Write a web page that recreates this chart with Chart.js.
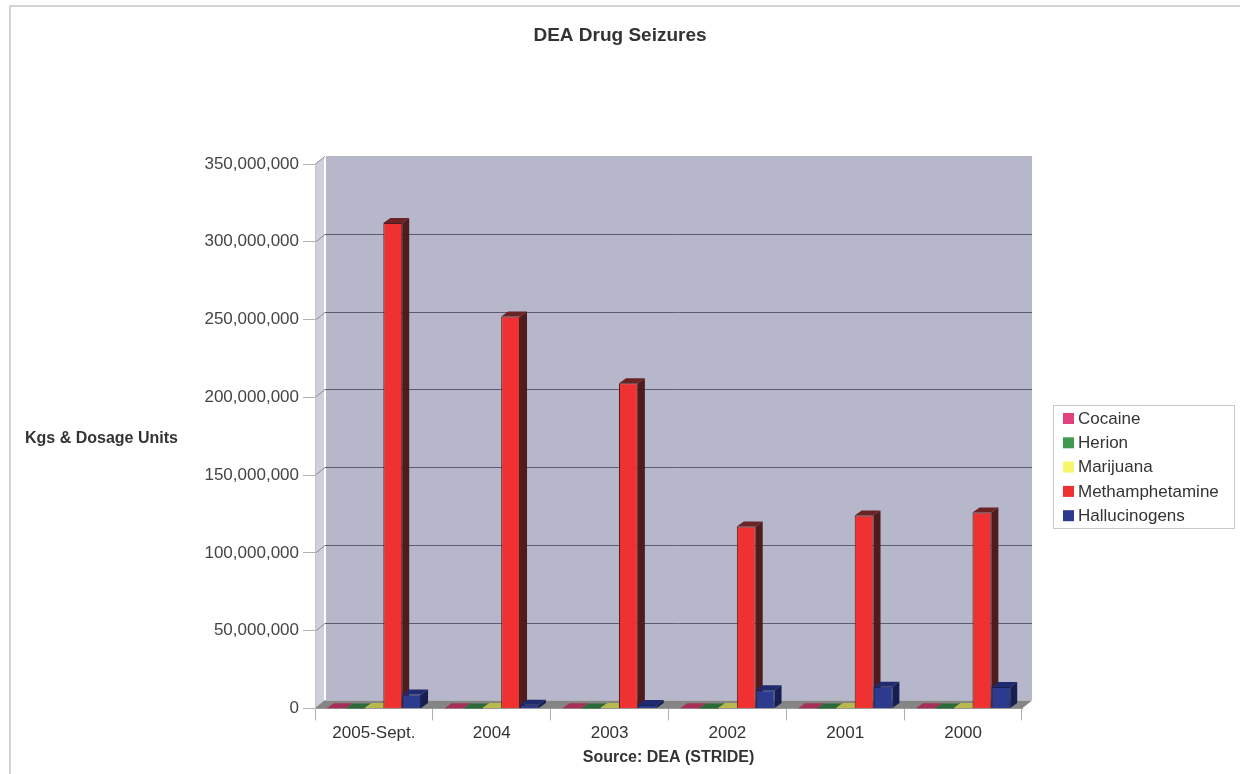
<!DOCTYPE html>
<html>
<head>
<meta charset="utf-8">
<title>DEA Drug Seizures</title>
<script src="https://cdn.jsdelivr.net/npm/chart.js@4.4.1/dist/chart.umd.min.js"></script>
<style>
  html, body { margin: 0; padding: 0; background: #fff; }
  #wrap { width: 1240px; height: 774px; }
</style>
</head>
<body>
<div id="wrap"><canvas id="seizureChart" width="1240" height="774"></canvas></div>
<script>
// ─ data
const categories = ['2005-Sept.', '2004', '2003', '2002', '2001', '2000'];
const cocaine = [118000, 117900, 73700, 61600, 59400, 58600];
const heroin = [640, 670, 800, 710, 750, 550];
const marijuana = [283000, 265800, 254200, 238400, 271800, 332000];
const methamphetamine = [312000000, 252000000, 209000000, 117000000, 124000000, 126000000];
const hallucinogens = [9000000, 2300000, 2200000, 11700000, 13900000, 13800000];
const seriesNames = ['Cocaine', 'Herion', 'Marijuana', 'Methamphetamine', 'Hallucinogens'];
const yMax = 350000000;
const yStep = 50000000;

const FONT = 'Arial, "Liberation Sans", sans-serif';
const frontColors = ['#e2427c', '#3f9a50', '#f6f56c', '#f03131', '#2d3b8f'];
const sideColors = ['#7c2242', '#1f4c2a', '#8a8a36', '#4e1c1c', '#161e52'];
const topColors = ['#a63058', '#2c6a3a', '#b8b84c', '#6a2424', '#202a6e'];

// depth of the fake 3d walls / bars
const WALL = { dx: 10, dy: 8 };
const BAR = { dx: 7, dy: 5 };

// ─ walls, floor, back gridlines
const wallsPlugin = {
    id: 'walls',
    beforeDraw(chart) {
        const { ctx, chartArea: a, scales } = chart;
        const y = scales.y;
        ctx.save();

        // light frame round the picture
        ctx.strokeStyle = '#d4d4d4';
        ctx.lineWidth = 2;
        ctx.beginPath();
        ctx.moveTo(10, 774);
        ctx.lineTo(10, 6);
        ctx.lineTo(1240, 6);
        ctx.stroke();

        // back wall
        ctx.fillStyle = '#b6b7ca';
        ctx.fillRect(a.left + WALL.dx, a.top - WALL.dy, a.width, a.height);

        // left wall
        ctx.fillStyle = '#cfd0dc';
        ctx.beginPath();
        ctx.moveTo(a.left, a.top);
        ctx.lineTo(a.left + WALL.dx, a.top - WALL.dy);
        ctx.lineTo(a.left + WALL.dx, a.bottom - WALL.dy);
        ctx.lineTo(a.left, a.bottom);
        ctx.closePath();
        ctx.fill();
        ctx.strokeStyle = '#ffffff';
        ctx.lineWidth = 2;
        ctx.beginPath();
        ctx.moveTo(a.left + WALL.dx, a.top - WALL.dy);
        ctx.lineTo(a.left + WALL.dx, a.bottom - WALL.dy);
        ctx.stroke();

        // back gridlines + slanted ticks on the left wall
        ctx.strokeStyle = '#5c5d72';
        ctx.lineWidth = 1;
        for (let v = yStep; v < yMax; v += yStep) {
            const py = Math.round(y.getPixelForValue(v)) + 0.5;
            ctx.beginPath();
            ctx.moveTo(a.left + WALL.dx, py - WALL.dy);
            ctx.lineTo(a.right + WALL.dx, py - WALL.dy);
            ctx.stroke();
        }
        ctx.strokeStyle = '#8a8a96';
        for (let v = 0; v <= yMax; v += yStep) {
            const py = Math.round(y.getPixelForValue(v)) + 0.5;
            ctx.beginPath();
            ctx.moveTo(a.left, py);
            ctx.lineTo(a.left + WALL.dx, py - WALL.dy);
            ctx.stroke();
        }

        // floor
        ctx.fillStyle = '#858585';
        ctx.beginPath();
        ctx.moveTo(a.left, a.bottom);
        ctx.lineTo(a.right, a.bottom);
        ctx.lineTo(a.right + WALL.dx, a.bottom - WALL.dy);
        ctx.lineTo(a.left + WALL.dx, a.bottom - WALL.dy);
        ctx.closePath();
        ctx.fill();
        ctx.restore();
    }
};

// ─ top and side faces of every bar
const barDepthPlugin = {
    id: 'barDepth',
    beforeDatasetsDraw(chart) {
        const ctx = chart.ctx;
        ctx.save();
        chart.getSortedVisibleDatasetMetas().forEach(meta => {
            const i = meta.index;
            meta.data.forEach(bar => {
                const { x, y, base, width } = bar.getProps(['x', 'y', 'base', 'width'], true);
                const x1 = x - width / 2, x2 = x + width / 2;
                // side
                ctx.fillStyle = sideColors[i];
                ctx.beginPath();
                ctx.moveTo(x2, y);
                ctx.lineTo(x2 + BAR.dx, y - BAR.dy);
                ctx.lineTo(x2 + BAR.dx, base - BAR.dy);
                ctx.lineTo(x2, base);
                ctx.closePath();
                ctx.fill();
                // top
                ctx.fillStyle = topColors[i];
                ctx.beginPath();
                ctx.moveTo(x1, y);
                ctx.lineTo(x2, y);
                ctx.lineTo(x2 + BAR.dx, y - BAR.dy);
                ctx.lineTo(x1 + BAR.dx, y - BAR.dy);
                ctx.closePath();
                ctx.fill();
            });
        });
        ctx.restore();
    }
};

// ─ title, horizontal y title and boxed legend
const labelsPlugin = {
    id: 'labels',
    afterDraw(chart) {
        const ctx = chart.ctx;
        ctx.save();
        ctx.fillStyle = '#333';
        ctx.textBaseline = 'middle';

        ctx.font = 'bold 19px ' + FONT;
        ctx.textAlign = 'center';
        ctx.fillText('DEA Drug Seizures', 620, 36);

        ctx.font = 'bold 16px ' + FONT;
        ctx.textAlign = 'left';
        ctx.fillText('Kgs & Dosage Units', 25, 439);

        // legend
        ctx.fillStyle = '#fff';
        ctx.fillRect(1053, 405, 181, 123);
        ctx.strokeStyle = '#c8c8c8';
        ctx.lineWidth = 1;
        ctx.strokeRect(1053.5, 405.5, 181, 123);
        ctx.font = '17px ' + FONT;
        chart.data.datasets.forEach((ds, i) => {
            const cy = 418 + i * 24.3;
            ctx.fillStyle = frontColors[i];
            ctx.fillRect(1063, cy - 5, 11, 11);
            ctx.fillStyle = '#333';
            ctx.fillText(ds.label, 1078, cy + 1);
        });
        ctx.restore();
    }
};

const seriesData = [cocaine, heroin, marijuana, methamphetamine, hallucinogens];

new Chart(document.getElementById('seizureChart'), {
    type: 'bar',
    data: {
        labels: categories,
        datasets: seriesNames.map((name, i) => ({
            label: name,
            data: seriesData[i],
            backgroundColor: frontColors[i],
            borderColor: sideColors[i],
            borderWidth: 1,
            categoryPercentage: 0.8,
            barPercentage: 1.0
        }))
    },
    options: {
        responsive: false,
        animation: false,
        layout: { padding: { left: 0, right: 218, top: 164, bottom: 0 } },
        plugins: {
            legend: { display: false },
            tooltip: { enabled: false },
            title: { display: false }
        },
        scales: {
            x: {
                grid: { display: true, drawOnChartArea: false, tickLength: 12, color: '#b0b0b0', offset: true },
                border: { display: true, color: '#9a9a9a' },
                ticks: { color: '#333', font: { family: FONT, size: 17 }, padding: 3, maxRotation: 0 },
                title: {
                    display: true,
                    text: 'Source: DEA (STRIDE)',
                    color: '#333',
                    font: { family: FONT, size: 16, weight: 'bold' },
                    padding: { top: 1, bottom: 7 }
                }
            },
            y: {
                min: 0,
                max: yMax,
                afterFit(scale) { scale.width = 315; },
                grid: { display: true, drawOnChartArea: false, tickLength: 12, color: '#b0b0b0' },
                border: { display: true, color: '#c4c4c4' },
                ticks: {
                    stepSize: yStep,
                    color: '#444',
                    font: { family: FONT, size: 17 },
                    padding: 4,
                    callback: v => v.toLocaleString('en-US')
                }
            }
        }
    },
    plugins: [wallsPlugin, barDepthPlugin, labelsPlugin]
});
</script>
</body>
</html>
